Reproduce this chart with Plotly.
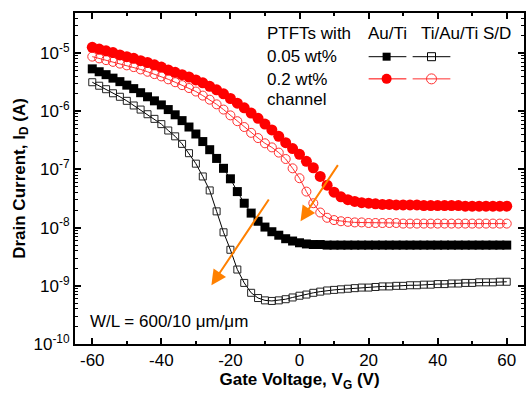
import plotly.graph_objects as go

# Gate voltage (V)
vg = list(range(-60, 61, 2))

# log10 of drain current (A)
log_au_02 = [-4.90, -4.93, -4.96, -4.99, -5.03, -5.06, -5.09, -5.13, -5.16, -5.20,
             -5.24, -5.29, -5.33, -5.37, -5.41, -5.46, -5.51, -5.57, -5.63, -5.70,
             -5.78, -5.86, -5.94, -6.03, -6.12, -6.22, -6.32, -6.43, -6.54, -6.64,
             -6.74, -6.86, -6.97, -7.12, -7.27, -7.39, -7.47, -7.52, -7.55, -7.57,
             -7.58, -7.59, -7.60, -7.60, -7.61, -7.61, -7.61, -7.61, -7.62, -7.62,
             -7.62, -7.62, -7.62, -7.62, -7.63, -7.63, -7.63, -7.63, -7.63, -7.63,
             -7.63]
log_ti_02 = [-5.06, -5.09, -5.12, -5.15, -5.18, -5.21, -5.24, -5.28, -5.32, -5.36,
             -5.40, -5.45, -5.50, -5.55, -5.60, -5.66, -5.73, -5.80, -5.88, -5.97,
             -6.07, -6.17, -6.27, -6.37, -6.46, -6.55, -6.62, -6.71, -6.82, -6.98,
             -7.15, -7.38, -7.58, -7.74, -7.83, -7.87, -7.89, -7.90, -7.91, -7.91,
             -7.92, -7.92, -7.92, -7.92, -7.92, -7.93, -7.93, -7.93, -7.93, -7.93,
             -7.93, -7.93, -7.93, -7.93, -7.93, -7.93, -7.93, -7.93, -7.93, -7.93,
             -7.93]
log_au_005 = [-5.27, -5.32, -5.37, -5.43, -5.49, -5.55, -5.61, -5.68, -5.75, -5.82,
              -5.89, -5.97, -6.06, -6.16, -6.27, -6.39, -6.52, -6.66, -6.81, -6.98,
              -7.16, -7.38, -7.58, -7.75, -7.89, -7.99, -8.07, -8.13, -8.19, -8.23,
              -8.26, -8.28, -8.29, -8.29, -8.30, -8.30, -8.30, -8.30, -8.30, -8.30,
              -8.30, -8.30, -8.30, -8.30, -8.30, -8.30, -8.30, -8.30, -8.30, -8.30,
              -8.30, -8.30, -8.30, -8.30, -8.30, -8.30, -8.30, -8.30, -8.30, -8.30,
              -8.30]
log_ti_005 = [-5.50, -5.56, -5.62, -5.69, -5.75, -5.82, -5.90, -5.97, -6.05, -6.13,
              -6.22, -6.33, -6.43, -6.56, -6.72, -6.90, -7.12, -7.36, -7.72, -8.08,
              -8.38, -8.72, -8.95, -9.12, -9.21, -9.25, -9.26, -9.25, -9.23, -9.20,
              -9.17, -9.15, -9.12, -9.10, -9.08, -9.07, -9.06, -9.05, -9.04, -9.03,
              -9.03, -9.02, -9.01, -9.01, -9.00, -9.00, -8.99, -8.99, -8.98, -8.98,
              -8.97, -8.97, -8.96, -8.96, -8.95, -8.95, -8.94, -8.94, -8.94, -8.93,
              -8.93]

x_ticks = [-60, -40, -20, 0, 20, 40, 60]
x_ticktext = ["-60", "-40", "-20", "0", "20", "40", "60"]
y_exps = [-10, -9, -8, -7, -6, -5]
y_ticktext = ["10<sup>%d</sup>" % e for e in y_exps]

FONT = "Liberation Sans, Arial, sans-serif"
RED = "#ff0000"
RED_OPEN = "#ff3030"

def cur(logs):
    return [10 ** v for v in logs]

fig = go.Figure()

fig.add_trace(go.Scatter(x=vg, y=cur(log_ti_005), mode="lines+markers",
                         line=dict(color="black", width=1),
                         marker=dict(symbol="square-open", size=7, color="#222222",
                                     line=dict(width=1))))
fig.add_trace(go.Scatter(x=vg, y=cur(log_au_005), mode="lines+markers",
                         line=dict(color="black", width=1),
                         marker=dict(symbol="square", size=9, color="black")))
fig.add_trace(go.Scatter(x=vg, y=cur(log_ti_02), mode="lines+markers",
                         line=dict(color=RED_OPEN, width=1),
                         marker=dict(symbol="circle-open", size=9, color=RED_OPEN,
                                     line=dict(width=1))))
fig.add_trace(go.Scatter(x=vg, y=cur(log_au_02), mode="lines+markers",
                         line=dict(color=RED, width=1),
                         marker=dict(symbol="circle", size=11, color=RED)))

# legend swatches on an overlay axis (fractions of plot area)
sw = [
    (0.654, 0.738, 0.694, 0.868, "black", "square", 8),
    (0.752, 0.836, 0.794, 0.868, "black", "square-open", 8),
    (0.654, 0.738, 0.694, 0.801, RED, "circle", 10),
    (0.752, 0.836, 0.794, 0.801, RED_OPEN, "circle-open", 10),
]
for x0, x1, xm, yy, col, sym, sz in sw:
    fig.add_trace(go.Scatter(x=[x0, x1], y=[yy, yy], mode="lines",
                             line=dict(color=col, width=1), xaxis="x2", yaxis="y2",
                             hoverinfo="skip"))
    if "open" in sym:
        mk = dict(symbol=sym, size=sz, color=col, line=dict(width=1, color=col))
    else:
        mk = dict(symbol=sym, size=sz, color=col)
    fig.add_trace(go.Scatter(x=[xm], y=[yy], mode="markers", marker=mk,
                             xaxis="x2", yaxis="y2", hoverinfo="skip"))

# orange arrows
arrows = [(-8.6, -7.49, -25.5, -8.99), (11.4, -6.90, 0.3, -7.89)]
for ax_, ay_, x_, y_ in arrows:
    fig.add_annotation(x=x_, y=y_, ax=ax_, ay=ay_, xref="x", yref="y",
                       axref="x", ayref="y", showarrow=True, text="",
                       arrowhead=2, arrowsize=1.5, arrowwidth=2,
                       arrowcolor="#ff8000")

labels = [
    (0.4235, 0.9387, "PTFTs with"),
    (0.647, 0.9387, "Au/Ti"),
    (0.7665, 0.9387, "Ti/Au/Ti S/D"),
    (0.4235, 0.8671, "0.05 wt%"),
    (0.4235, 0.8006, "0.2 wt%"),
    (0.4235, 0.7372, "channel"),
    (0.0288, 0.0665, "W/L = 600/10 \u03bcm/\u03bcm"),
]
for lx, ly, t in labels:
    fig.add_annotation(x=lx, y=ly, xref="paper", yref="paper", text=t,
                       showarrow=False, xanchor="left", yanchor="middle",
                       font=dict(size=17, color="black", family=FONT))

minor_y = [k * 10.0 ** e for e in range(-10, -4) for k in range(2, 10)]

fig.update_layout(
    width=527, height=393,
    margin=dict(l=75, r=1, t=13, b=49),
    paper_bgcolor="white", plot_bgcolor="white",
    showlegend=False,
    font=dict(family=FONT, size=17, color="black"),
    xaxis=dict(range=[-65, 65], tickvals=x_ticks, ticktext=x_ticktext,
               ticks="inside", ticklen=6,
               tickwidth=1.5, tickcolor="black", showline=True, linewidth=2,
               linecolor="black", mirror="allticks", showgrid=False, zeroline=False,
               minor=dict(tickvals=[-50, -30, -10, 10, 30, 50], ticks="inside",
                          ticklen=3, tickwidth=1.5, tickcolor="black"),
               tickfont=dict(size=17),
               title=dict(text="<b>Gate Voltage, V<sub>G</sub> (V)</b>",
                          font=dict(size=17), standoff=2)),
    yaxis=dict(type="log", range=[-10, -4.31], tickvals=[10.0 ** e for e in y_exps],
               ticktext=y_ticktext, ticks="inside", ticklen=6, tickwidth=1.5,
               tickcolor="black", showline=True, linewidth=2, linecolor="black",
               mirror="allticks", showgrid=False, zeroline=False,
               minor=dict(tickvals=minor_y, ticks="inside", ticklen=3,
                          tickwidth=1, tickcolor="black"),
               tickfont=dict(size=17),
               title=dict(text="<b>Drain Current, I<sub>D</sub> (A)</b>",
                          font=dict(size=17), standoff=4)),
    xaxis2=dict(range=[0, 1], overlaying="x", visible=False, fixedrange=True),
    yaxis2=dict(range=[0, 1], overlaying="y", visible=False, fixedrange=True),
)

fig.write_html("out.html")
